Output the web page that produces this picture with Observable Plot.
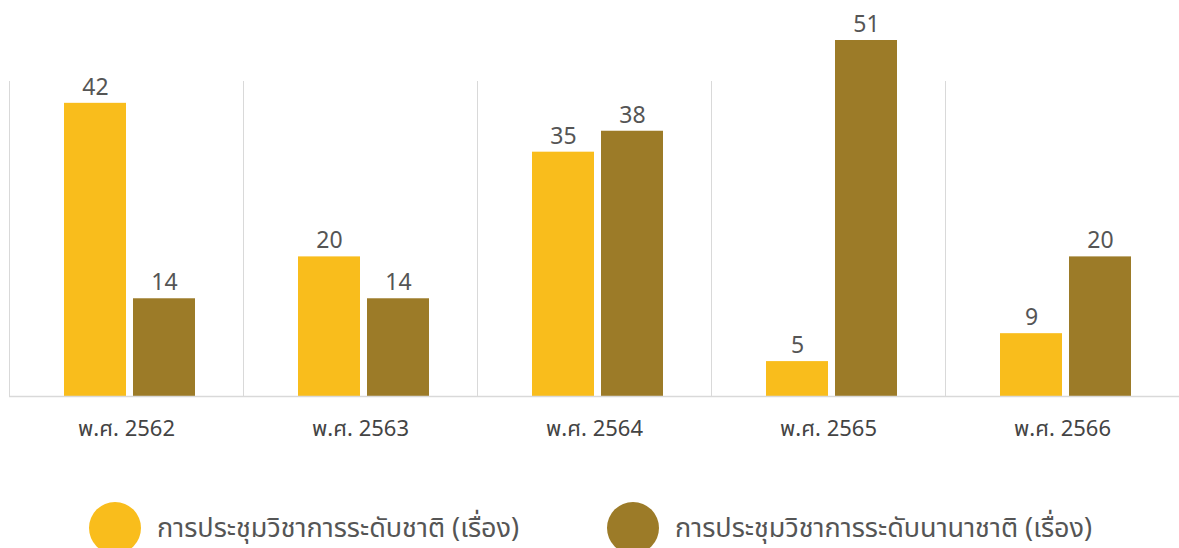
<!DOCTYPE html>
<html>
<head>
<meta charset="utf-8">
<script src="https://cdn.jsdelivr.net/npm/d3@7"></script>
<script src="https://cdn.jsdelivr.net/npm/@observablehq/plot@0.6"></script>
<style>
  html, body { margin: 0; padding: 0; background: #fff; }
  body { font-family: "Noto Sans Thai", "Noto Sans", "DejaVu Sans", sans-serif; }
  #wrap { position: relative; width: 1179px; height: 548px; overflow: hidden; }
  #legend { position: absolute; left: 0; top: 0; width: 1179px; height: 548px; pointer-events: none; }
  .item { position: absolute; top: 502px; display: flex; align-items: center; height: 52px; }
  .sw { width: 52px; height: 52px; border-radius: 50%; margin-right: 16px; flex: none; }
  .lab { font-size: 27px; color: #555; white-space: nowrap; }
</style>
</head>
<body>
<div id="wrap">
  <div id="chart"></div>
  <div id="legend"></div>
</div>
<script>
const years = ["พ.ศ. 2562", "พ.ศ. 2563", "พ.ศ. 2564", "พ.ศ. 2565", "พ.ศ. 2566"];
const seriesNames = ["การประชุมวิชาการระดับชาติ (เรื่อง)", "การประชุมวิชาการระดับนานาชาติ (เรื่อง)"];
const nationalValues = [42, 20, 35, 5, 9];
const internationalValues = [14, 14, 38, 51, 20];
const seriesColors = ["#F9BD1C", "#9C7B28"];

const table = [];
years.forEach((y, i) => {
  table.push({year: y, series: seriesNames[0], value: nationalValues[i]});
  table.push({year: y, series: seriesNames[1], value: internationalValues[i]});
});

const chart = Plot.plot({
  width: 1179,
  height: 462,
  marginLeft: 8,
  marginRight: 0,
  marginTop: 40,
  marginBottom: 66,
  style: {fontFamily: '"Noto Sans Thai", "Noto Sans", "DejaVu Sans", sans-serif', color: "#555", background: "#fff"},
  fx: {domain: years, padding: 0, label: null},
  x: {domain: seriesNames, paddingInner: 0.1, paddingOuter: 0.723, align: 0.53, axis: null},
  y: {domain: [0, 51], axis: null},
  color: {domain: seriesNames, range: seriesColors},
  marks: [
    Plot.frame({anchor: "left", stroke: "#d9d9d9", insetTop: 41}),
    Plot.barY(table, {fx: "year", x: "series", y: "value", fill: "series"}),
    Plot.ruleY([0], {stroke: "#d9d9d9", strokeWidth: 1.5}),
    Plot.text(table, {fx: "year", x: "series", y: "value", text: d => String(d.value), dy: -16, fill: "#555", fontSize: 23}),
    Plot.axisFx({anchor: "bottom", tickSize: 0, tickPadding: 24, fontSize: 22, label: null, fill: "#444"})
  ]
});
document.getElementById("chart").appendChild(chart);

const legend = document.getElementById("legend");
const lefts = [89, 607];
seriesNames.forEach((s, i) => {
  const it = document.createElement("div");
  it.className = "item";
  it.style.left = lefts[i] + "px";
  const sw = document.createElement("div");
  sw.className = "sw";
  sw.style.background = seriesColors[i];
  const lab = document.createElement("span");
  lab.className = "lab";
  lab.textContent = s;
  it.appendChild(sw);
  it.appendChild(lab);
  legend.appendChild(it);
});
</script>
</body>
</html>
